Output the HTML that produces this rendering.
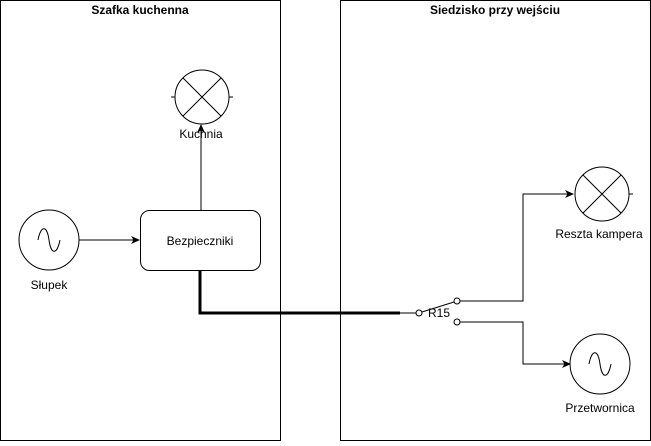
<!DOCTYPE html>
<html><head><style>body{margin:0;background:#fff}svg text{font-family:"Liberation Sans",sans-serif;font-size:12px;fill:#000}</style></head><body>
<svg width="651" height="441" viewBox="0 0 651 441" xmlns="http://www.w3.org/2000/svg">
<defs><marker id="a" markerWidth="10" markerHeight="10" refX="8" refY="4" orient="auto" markerUnits="userSpaceOnUse"><path d="M0,0 L9,4 L0,8 L2.5,4z" fill="#000"/></marker></defs>
<g fill="none" stroke="#000" stroke-width="1">
<rect x="0.5" y="0.5" width="280" height="440"/>
<rect x="340.5" y="0.5" width="310" height="440"/>
<circle cx="202" cy="97" r="27"/><path d="M183,78L221,116M221,78L183,116M171,97h4M229,97h4"/>
<circle cx="49" cy="240" r="30"/><path d="M38,240c3,-15 9,-15 11,0s8,15 11,0"/>
<rect x="140.5" y="210.5" width="120" height="60" rx="9"/>
<path d="M79,240H139" marker-end="url(#a)"/>
<path d="M201,210V125" marker-end="url(#a)"/>
<path d="M200,270V313H400" stroke-width="3"/>
<path d="M400,313H416"/>
<circle cx="419" cy="313" r="3" fill="#fff"/>
<path d="M422,312L454,302"/>
<circle cx="457" cy="301" r="3" fill="#fff"/>
<circle cx="457" cy="322" r="3" fill="#fff"/>
<path d="M460,301H523V194H573" marker-end="url(#a)"/>
<path d="M460,322H523V364H570" marker-end="url(#a)"/>
<circle cx="602" cy="194" r="27"/><path d="M583,175L621,213M621,175L583,213M629,194h4"/>
<circle cx="600" cy="364" r="30"/><path d="M589,364c3,-15 9,-15 11,0s8,15 11,0"/>
</g>
<text x="140" y="14" text-anchor="middle" font-weight="bold">Szafka kuchenna</text>
<text x="495" y="14" text-anchor="middle" font-weight="bold">Siedzisko przy wejściu</text>
<text x="201" y="138" text-anchor="middle">Kuchnia</text>
<text x="49" y="289" text-anchor="middle">Słupek</text>
<text x="200" y="245" text-anchor="middle">Bezpieczniki</text>
<text x="439" y="317" text-anchor="middle">R15</text>
<text x="599" y="238" text-anchor="middle">Reszta kampera</text>
<text x="600" y="412" text-anchor="middle">Przetwornica</text>
</svg>
</body></html>
